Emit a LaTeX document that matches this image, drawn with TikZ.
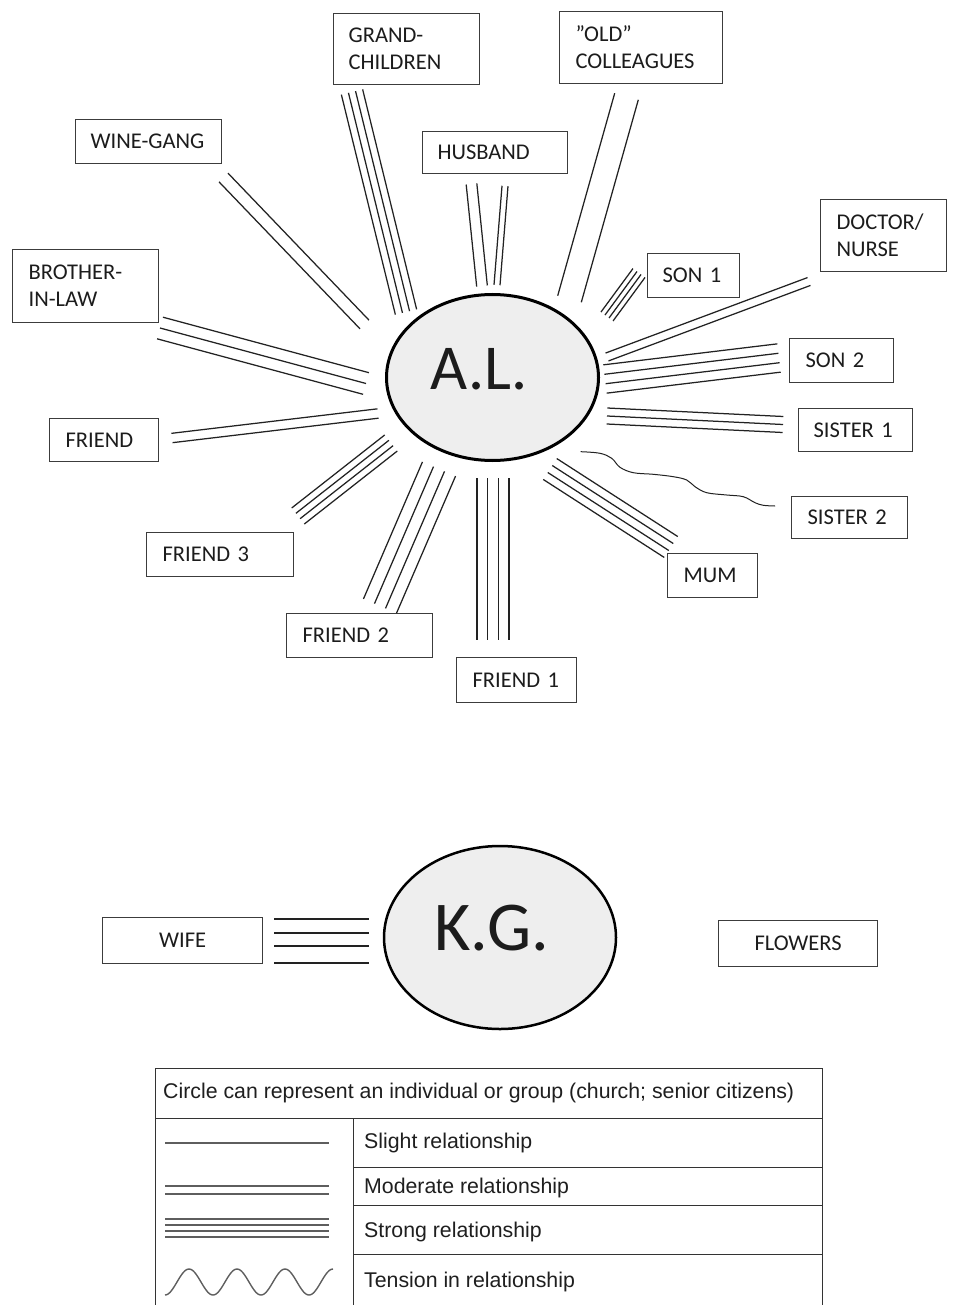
\documentclass[tikz,border=0pt]{standalone}
\usepackage{fontspec}
\newfontfamily\labelfont{Carlito}
\newfontfamily\legendfont{Liberation Sans}
\usetikzlibrary{shapes.geometric,calc}
\definecolor{txt}{HTML}{1C1C1C}
\definecolor{boxc}{HTML}{3C3C3C}
\definecolor{relc}{HTML}{222222}
\definecolor{fillc}{HTML}{EEEEEE}
\definecolor{legc}{HTML}{5E5E5E}
\definecolor{tabc}{HTML}{333333}
\newcommand\bundle[4]{%
  \foreach \k in {1,...,#3}{%
    \pgfmathsetmacro\off{(\k-(#3+1)/2)*#4}%
    \draw[rel] ($(#1)!\off pt!90:(#2)$) -- ($(#2)!\off pt!-90:(#1)$);
  }%
}
\tikzset{
  lbl/.style={draw=boxc, line width=1.2pt, rectangle, anchor=north west, inner ysep=0pt,
    align=left, text=txt, font=\labelfont\fontsize{22.5}{27}\selectfont},
  clbl/.style={lbl, align=center},
  rel/.style={draw=relc, line width=1.25pt},
  person/.style={ellipse, draw=black, line width=3pt, fill=fillc, inner sep=0pt},
  bigtxt/.style={text=txt, inner sep=0pt},
  legline/.style={draw=legc, line width=1.7pt},
  legtxt/.style={anchor=west, inner sep=0pt, text=black!88, font=\legendfont\fontsize{21.3}{25}\selectfont},
  tab/.style={draw=tabc, line width=1pt}
}
\begin{document}
\begin{tikzpicture}[x=1pt,y=-1pt]
\useasboundingbox (0,0) rectangle (956,1305);
\fill[white] (0,0) rectangle (956,1305);

% ---------- A.L. ----------
\node[person, minimum width=212pt, minimum height=166pt] (al) at (492.5,377.5) {};
\node[bigtxt, font=\labelfont\fontsize{64}{64}\selectfont] (altxt) at (479,369) {A.L.};

\node[lbl, minimum width=146pt, minimum height=71pt, text width=116pt, inner xsep=15pt] (gc) at (333,13) {GRAND-\\CHILDREN};
\node[lbl, minimum width=163pt, minimum height=72pt, text width=131pt, inner xsep=16pt] (old) at (559,11) {”OLD”\\COLLEAGUES};
\node[lbl, minimum width=146pt, minimum height=44pt, text width=116pt, inner xsep=15pt] (wine) at (75,119) {WINE-GANG};
\node[lbl, minimum width=145pt, minimum height=42pt, text width=115pt, inner xsep=15pt] (husband) at (422,131) {HUSBAND};
\node[lbl, minimum width=126pt, minimum height=72pt, text width=94pt, inner xsep=16pt] (doc) at (820,199) {DOCTOR/\\NURSE};
\node[lbl, minimum width=146pt, minimum height=73pt, text width=114pt, inner xsep=16pt] (bil) at (12,249) {BROTHER-\\IN-LAW};
\node[lbl, minimum width=92pt, minimum height=44pt, text width=62pt, inner xsep=15pt] (son1) at (647,253) {SON 1};
\node[lbl, minimum width=104pt, minimum height=44pt, text width=72pt, inner xsep=16pt] (son2) at (789,338) {SON 2};
\node[lbl, minimum width=114pt, minimum height=43pt, text width=84pt, inner xsep=15pt] (sis1) at (798,408) {SISTER 1};
\node[lbl, minimum width=109pt, minimum height=43pt, text width=77pt, inner xsep=16pt] (friend) at (49,418) {FRIEND};
\node[lbl, minimum width=116pt, minimum height=42pt, text width=84pt, inner xsep=16pt] (sis2) at (791,496) {SISTER 2};
\node[lbl, minimum width=90pt, minimum height=44pt, text width=58pt, inner xsep=16pt] (mum) at (667,553) {MUM};
\node[lbl, minimum width=147pt, minimum height=44pt, text width=115pt, inner xsep=16pt] (f3) at (146,532) {FRIEND 3};
\node[lbl, minimum width=146pt, minimum height=44pt, text width=114pt, inner xsep=16pt] (f2) at (286,613) {FRIEND 2};
\node[lbl, minimum width=120pt, minimum height=45pt, text width=88pt, inner xsep=16pt] (f1) at (456,657) {FRIEND 1};

% connector end points
\coordinate (gcA) at (352,92);      \coordinate (gcB) at (406,312);
\coordinate (huA) at (471.5,184);   \coordinate (huB) at (482,286);
\coordinate (huC) at (505,186);     \coordinate (huD) at (497,285);
\coordinate (olA) at (626.5,96.5);  \coordinate (olB) at (569.5,299);
\coordinate (s1A) at (639,273);     \coordinate (s1B) at (607,316.5);
\coordinate (drA) at (809,281.5);   \coordinate (drB) at (607,357);
\coordinate (s2A) at (779,358);     \coordinate (s2B) at (605,379);
\coordinate (si1A) at (783,424.5);  \coordinate (si1B) at (607,416);
\coordinate (muA) at (550,469);     \coordinate (muB) at (671,547);
\coordinate (f1A) at (493,478);     \coordinate (f1B) at (493,640);
\coordinate (f2A) at (439,469);     \coordinate (f2B) at (380,606);
\coordinate (f3A) at (391,443);     \coordinate (f3B) at (298,516);
\coordinate (frA) at (378,413.5);   \coordinate (frB) at (172,438);
\coordinate (biA) at (160,328);     \coordinate (biB) at (366,383.5);
\coordinate (wgA) at (223.5,177.5); \coordinate (wgB) at (364.5,324.5);

\bundle{gcA}{gcB}{4}{7.3}
\bundle{huA}{huB}{2}{10.7}
\bundle{huC}{huD}{2}{6}
\bundle{olA}{olB}{2}{24.5}
\bundle{s1A}{s1B}{4}{5}
\bundle{drA}{drB}{2}{8.4}
\bundle{s2A}{s2B}{4}{9.5}
\bundle{si1A}{si1B}{3}{8}
\bundle{muA}{muB}{4}{8.3}
\bundle{f1A}{f1B}{4}{10.7}
\bundle{f2A}{f2B}{4}{12}
\bundle{f3A}{f3B}{4}{6.8}
\bundle{frA}{frB}{2}{9.4}
\bundle{biA}{biB}{3}{11.2}
\bundle{wgA}{wgB}{2}{12.5}

% tension with sister 2
\draw[rel, line width=1pt] plot[smooth, tension=0.6] coordinates {(580.7,451.7) (600,453.3) (611.7,458.3) (620,467.3) (633.3,472.7) (653.3,474.3) (673.3,476.7) (686.7,480) (695,486.7) (706.7,492.7) (726.7,495) (743.3,496.7) (755,502.7) (763.3,505.3) (775,506)};

% ---------- K.G. ----------
\node[person, line width=2.5pt, minimum width=232pt, minimum height=183pt] (kg) at (500,937.5) {};
\node[bigtxt, font=\labelfont\fontsize{70}{70}\selectfont] (kgtxt) at (491.5,928.5) {K.G.};
\node[clbl, minimum width=160pt, minimum height=46pt, text width=140pt, inner xsep=10pt] (wife) at (102,917) {WIFE};
\node[clbl, minimum width=159pt, minimum height=46pt, text width=139pt, inner xsep=10pt] (flowers) at (718,920) {FLOWERS};
\coordinate (wiL) at (274,941); \coordinate (wiR) at (369,941);
\foreach \s in {22,8,-5,-22}{\draw[rel] ([yshift=\s pt]wiL) -- ([yshift=\s pt]wiR);}

% ---------- legend ----------
\draw[tab] (155,1305) -- (155,1068) -- (822,1068) -- (822,1305);
\draw[tab] (155,1118) -- (822,1118);
\draw[tab] (353,1118) -- (353,1305);
\draw[tab] (353,1167) -- (822,1167);
\draw[tab] (353,1205) -- (822,1205);
\draw[tab] (353,1254) -- (822,1254);
\node[legtxt] (lhead) at (163,1093) {Circle can represent an individual or group (church; senior citizens)};
\node[legtxt] (lslight) at (364,1143) {Slight relationship};
\node[legtxt] (lmod) at (364,1188) {Moderate relationship};
\node[legtxt] (lstrong) at (364,1232) {Strong relationship};
\node[legtxt] (ltens) at (364,1282) {Tension in relationship};
\coordinate (lgL) at (165,1143); \coordinate (lgR) at (329,1143);
\draw[legline] (lgL) -- (lgR);
\foreach \s in {-43,-51}{\draw[legline] ([yshift=\s pt]lgL) -- ([yshift=\s pt]lgR);}
\foreach \s in {-76,-82,-88,-94}{\draw[legline, line width=1.5pt] ([yshift=\s pt]lgL) -- ([yshift=\s pt]lgR);}
\draw[legline, line width=1.4pt] plot[domain=0:168, samples=120, smooth] ({165+\x},{1282+13*cos(\x*7.5)});
\end{tikzpicture}
\end{document}
